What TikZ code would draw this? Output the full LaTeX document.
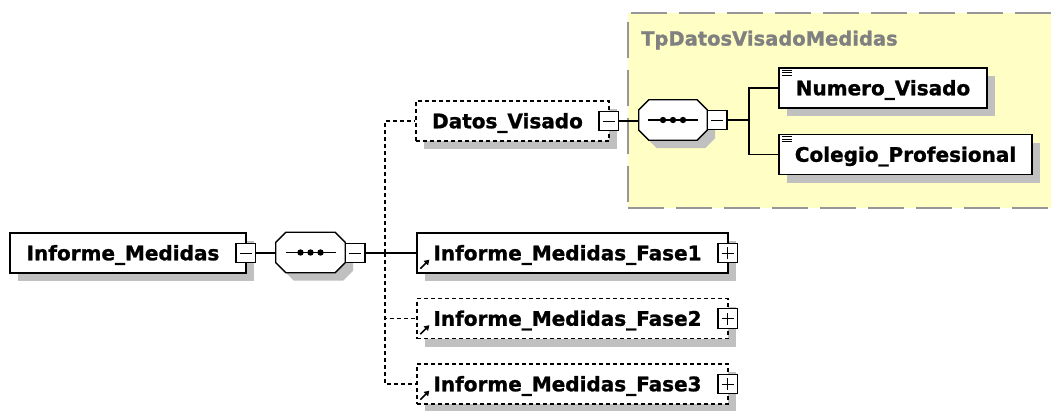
\documentclass[tikz,border=0pt]{standalone}
\usepackage{fontspec}
\setmainfont{DejaVu Sans}[BoldFont={DejaVu Sans Bold}, BoldFeatures={FakeBold=1.2}]
\usetikzlibrary{shadows,calc,arrows.meta}
\definecolor{shadowgray}{RGB}{192,192,192}
\definecolor{groupfill}{RGB}{255,255,197}
\definecolor{groupline}{RGB}{150,150,150}
\definecolor{titlegray}{RGB}{128,128,128}
\newcommand\seqshape[1]{%
  \path let \p1=(#1.north west), \p2=(#1.south east) in
    [fill=shadowgray, shift={(8pt,-8pt)}]
    (\x1+10pt,\y1) -- (\x2-10pt,\y1) -- (\x2,\y1-10pt) -- (\x2,\y2+10pt) --
    (\x2-10pt,\y2) -- (\x1+10pt,\y2) -- (\x1,\y2+10pt) -- (\x1,\y1-10pt) -- cycle;
  \path let \p1=(#1.north west), \p2=(#1.south east) in
    [fill=white, draw=black, line width=1.3pt]
    (\x1+10pt,\y1) -- (\x2-10pt,\y1) -- (\x2,\y1-10pt) -- (\x2,\y2+10pt) --
    (\x2-10pt,\y2) -- (\x1+10pt,\y2) -- (\x1,\y2+10pt) -- (\x1,\y1-10pt) -- cycle;
  \draw[line width=1.2pt] ($(#1.center)+(-25,0)$) -- ($(#1.center)+(25,0)$);
  \fill ($(#1.center)+(-10,0)$) circle (3.2pt);
  \fill ($(#1.center)$) circle (3.2pt);
  \fill ($(#1.center)+(10,0)$) circle (3.2pt);
}
\newcommand\refarrow[1]{%
  \draw[line width=1.6pt, -{Triangle[length=5pt,width=6pt]}]
    ($(#1.south west)+(4,-5)$) -- ($(#1.south west)+(13,-14)$);
}
\newcommand\linesicon[1]{%
  \foreach \dy in {2.7,5.2,7.7}
    \draw[line width=0.9pt] ($(#1.north west)+(3.5,\dy)$) -- ++(10.5,0);
}
\begin{document}
\begin{tikzpicture}[x=1pt,y=-1pt,
  lbl/.style={font=\bfseries\fontsize{20}{23}\selectfont},
  elem/.style={lbl, rectangle, draw=black, line width=1.3pt, fill=white,
    minimum height=40pt, inner sep=0pt, text height=14.5pt, text depth=0pt,
    drop shadow={shadow xshift=8pt, shadow yshift=-8pt, fill=shadowgray, opacity=1}},
  optelem/.style={elem, dash pattern=on 4pt off 3pt},
  shifted/.style={execute at begin node={\hspace*{-10pt}}},
  expander/.style={rectangle, draw=black, line width=1.2pt, fill=white,
    minimum size=19.5pt, inner sep=0pt},
  minus/.style={expander, path picture={
    \draw[line width=1pt] ([xshift=-6pt]path picture bounding box.center) --
      ([xshift=6pt]path picture bounding box.center);}},
  plus/.style={expander, path picture={
    \draw[line width=1pt] ([xshift=-6pt]path picture bounding box.center) --
      ([xshift=6pt]path picture bounding box.center);
    \draw[line width=1pt] ([yshift=-6pt]path picture bounding box.center) --
      ([yshift=6pt]path picture bounding box.center);}},
  seqbase/.style={rectangle, draw=none, minimum height=40pt, inner sep=0pt},
  conn/.style={line width=1.1pt},
  optconn/.style={line width=1.1pt, dash pattern=on 4pt off 3pt},
  grpbox/.style={rectangle, fill=groupfill, draw=groupline, line width=2pt,
    dash pattern=on 36pt off 12pt, inner sep=0pt},
]
\clip (0,0) rectangle (1051,410);
\fill[white] (0,0) rectangle (1051,410);

% group background
\node[grpbox, anchor=north west, minimum width=450pt, minimum height=195pt] (grp) at (627,12) {};
\node[lbl, font=\bfseries\fontsize{19.5}{22}\selectfont, text=titlegray, anchor=base west, inner sep=0pt] (title) at (641,45.5) {TpDatosVisadoMedidas};

% root element
\node[elem, shifted, minimum width=236pt] (IM) at (128,253) {Informe\_Medidas};
\node[minus] (IMx) at ($(IM.east)+(-1,0)$) {};

% main sequence
\node[seqbase, minimum width=69pt] (S1) at (310.5,252.5) {};
\seqshape{S1}
\node[minus] (S1x) at ($(S1.east)+(10,0.5)$) {};

% children
\node[optelem, shifted, minimum width=193pt] (DV) at (512.5,121) {Datos\_Visado};
\node[minus] (DVx) at ($(DV.east)+(-1,0)$) {};

\node[elem, shifted, minimum width=311pt] (F1) at (572.5,253) {Informe\_Medidas\_Fase1};
\node[plus] (F1x) at ($(F1.east)+(-1,0)$) {};
\refarrow{F1}

\node[optelem, shifted, minimum width=311pt] (F2) at (572.5,318.5) {Informe\_Medidas\_Fase2};
\node[plus] (F2x) at ($(F2.east)+(-1,0)$) {};
\refarrow{F2}

\node[optelem, shifted, minimum width=311pt] (F3) at (572.5,384) {Informe\_Medidas\_Fase3};
\node[plus] (F3x) at ($(F3.east)+(-1,0)$) {};
\refarrow{F3}

% inner sequence
\node[seqbase, minimum width=68pt] (S2) at (673,120) {};
\seqshape{S2}
\node[minus] (S2x) at ($(S2.east)+(10,0)$) {};

\node[elem, minimum width=208pt] (NV) at (883,88) {Numero\_Visado};
\linesicon{NV}
\node[elem, minimum width=253pt] (CP) at (905.5,154.5) {Colegio\_Profesional};
\linesicon{CP}

% connectors
\draw[conn] (IMx.east) -- (S1.west |- IMx.east);
\coordinate (bus) at (385,253);
\draw[conn] (S1x.east) -- (F1.west);
\draw[optconn] (bus) |- (DV.west);
\draw[optconn] (bus) |- (F2.west);
\draw[optconn] (bus) |- (F3.west);
\draw[conn] (DVx.east) -- (S2.west |- DVx.east);
\coordinate (branch) at (749,120);
\draw[conn] (S2x.east) -- (branch);
\draw[conn] (branch) |- (NV.west);
\draw[conn] (branch) |- (CP.west);
\end{tikzpicture}
\end{document}
